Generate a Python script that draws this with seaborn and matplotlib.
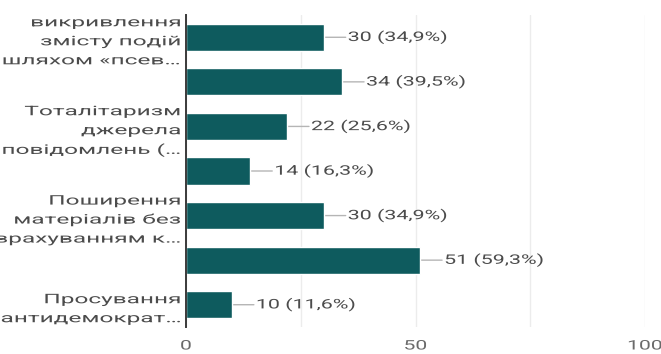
import numpy as np
import pandas as pd
import matplotlib
matplotlib.use("Agg")
import matplotlib.pyplot as plt
import seaborn as sns
from matplotlib.patheffects import AbstractPathEffect
from matplotlib.transforms import Affine2D, Bbox, TransformedBbox, ScaledTranslation

# Answer options (only every other option has a printed label)
options = ["1", "2", "3", "4", "5", "6", "7"]
option_labels = [
    "викривлення\nзмісту подій\nшляхом «псев…",
    "",
    "Тоталітаризм\nджерела\nповідомлень (…",
    "",
    "Поширення\nматеріалів без\nврахуванням к…",
    "",
    "Просування\nантидемократ…",
]
counts = [30, 34, 22, 14, 30, 51, 10]
respondents = 86
x_ticks = [0, 25, 50, 75, 100]
x_tick_labels = ["0", "", "50", "", "100"]

BAR = "#0e5b5e"
GRID = "#ececec"
AXIS = "#3a3a3a"
TXT = "#4c4c4c"


class WideText(AbstractPathEffect):
    """Widen glyphs horizontally around the text's anchor point."""

    def __init__(self, text, sx):
        super().__init__()
        self.text = text
        self.sx = sx

    def draw_path(self, renderer, gc, tpath, affine, rgbFace=None):
        x0 = self.text.get_transform().transform(self.text.get_unitless_position())[0]
        widen = Affine2D().translate(-x0, 0).scale(self.sx, 1).translate(x0, 0)
        renderer.draw_path(gc, tpath, affine + widen, rgbFace)


def widen(text, sx):
    text.set_path_effects([WideText(text, sx)])


sns.set_theme(style="white")
plt.rcParams["font.family"] = ["Roboto", "DejaVu Sans"]

fig = plt.figure(figsize=(6.61, 3.54), dpi=100)
ax = fig.add_axes([186 / 661, 1 - 327 / 354, (645 - 186) / 661, (327 - 15) / 354])

df = pd.DataFrame({"option": options, "count": counts})
sns.barplot(data=df, x="count", y="option", order=options, color=BAR,
            saturation=1, width=0.61, ax=ax, zorder=3)

ax.set_xlim(0, 100)
ax.set_xticks(x_ticks)
ax.set_xticklabels(x_tick_labels)
ax.set_xlabel("")
ax.set_ylabel("")
ax.set_yticks(range(len(options)))
ax.set_yticklabels(option_labels)

ax.grid(axis="x", color=GRID, linewidth=1, zorder=0)
for s in ["top", "right", "bottom"]:
    ax.spines[s].set_visible(False)
ax.spines["left"].set_color(AXIS)
ax.spines["left"].set_linewidth(1.4)
ax.spines["left"].set_zorder(4)

ax.tick_params(axis="y", length=0, pad=3, labelsize=9.5, labelcolor=TXT)
ax.tick_params(axis="x", length=0, pad=9, labelsize=9.5, labelcolor="#6a6a6a")

top_clip = TransformedBbox(Bbox([[0, 0], [1, 1 - 17.5 / 354]]), fig.transFigure)
for t in ax.get_yticklabels():
    t.set_linespacing(1.6)
    t.set_clip_on(True)
    t.set_clip_box(top_clip)
    widen(t, 1.85)
for t in ax.get_xticklabels():
    widen(t, 1.6)

# Value labels with short leader lines
lead = 22
for i, v in enumerate(counts):
    pct = f"{v / respondents * 100:.1f}".replace(".", ",")
    ax.annotate("", xy=(v, i), xytext=(lead, 0), textcoords="offset pixels",
                arrowprops=dict(arrowstyle="-", color="#b5b5b5", lw=1,
                                shrinkA=0, shrinkB=0), zorder=2)
    t = ax.text(v, i, f"{v} ({pct}%)",
                transform=ax.transData + ScaledTranslation((lead + 2) / 100, 0, fig.dpi_scale_trans),
                ha="left", va="center", fontsize=9.5, color=TXT)
    widen(t, 1.62)

fig.savefig("out.png", dpi=100, facecolor="white")
